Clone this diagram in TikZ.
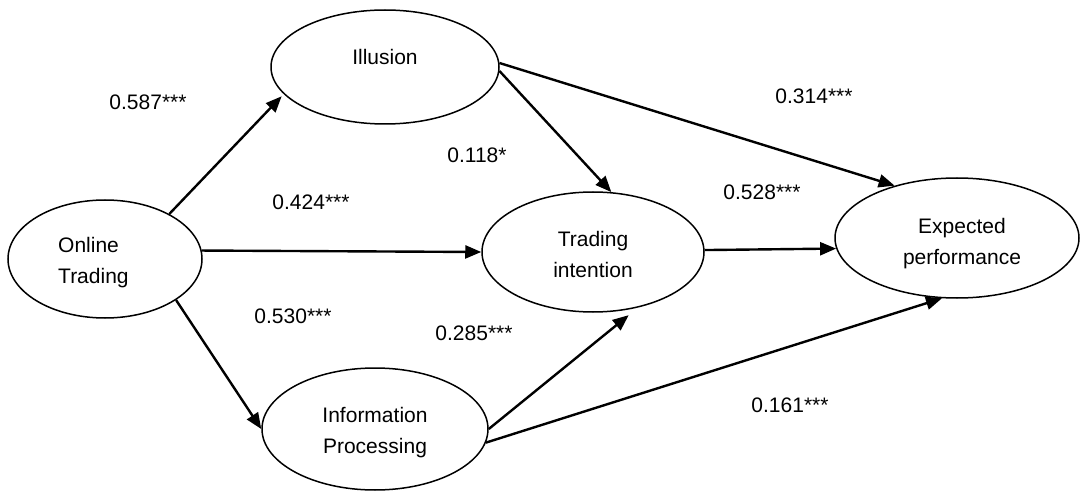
\documentclass[tikz,border=0pt]{standalone}
\usepackage{fontspec}
\setmainfont{Liberation Sans}
\usetikzlibrary{shapes.geometric,arrows.meta}
\tikzset{
  construct/.style={ellipse, draw, line width=1.5pt, inner sep=0pt},
  lbl/.style={inner sep=0pt, font=\fontsize{21}{31}\selectfont},
  path/.style={line width=2.4pt, -{Triangle[length=16pt,width=13pt]}}
}
\begin{document}
\begin{tikzpicture}[x=1pt,y=-1pt]
\useasboundingbox (0,0) rectangle (1080,492);
% ellipses
\node[construct, minimum width=194pt, minimum height=118pt] (onl) at (105,259) {};
\node[construct, minimum width=228pt, minimum height=114pt] (ill) at (385,67) {};
\node[construct, minimum width=222pt, minimum height=120pt] (tint) at (593,252) {};
\node[construct, minimum width=226pt, minimum height=122pt] (info) at (375,429) {};
\node[construct, minimum width=244pt, minimum height=120pt] (exp) at (957,238) {};
% ellipse texts
\node[lbl, anchor=west, align=left] (onl-t) at (58,263) {Online\\Trading};
\node[lbl] (ill-t) at (385,57) {Illusion};
\node[lbl, align=center] (tint-t) at (593,254) {Trading\\intention};
\node[lbl, align=center] (info-t) at (375,433) {Information\\Processing};
\node[lbl, align=center] (exp-t) at (962,244) {Expected\\performance};
% paths
\draw[path, shorten >=3pt] (onl.35) -- (ill.195);
\draw[path] (onl.5) -- (tint.west);
\draw[path] (onl.330) -- (info.west);
\draw[path] (ill.358) -- (tint.73);
\draw[path] (ill.2) -- (exp.140);
\draw[path] (tint.1) -- (exp.185);
\draw[path, shorten >=12pt] (info.east) -- (tint.309);
\draw[path] (info.353) -- (exp.256);
% coefficients
\node[lbl] (c1) at (148,102) {0.587***};
\node[lbl] (c2) at (814,96) {0.314***};
\node[lbl] (c3) at (477,155) {0.118*};
\node[lbl] (c4) at (311,202) {0.424***};
\node[lbl] (c5) at (762,192) {0.528***};
\node[lbl] (c6) at (293,316) {0.530***};
\node[lbl] (c7) at (474,333) {0.285***};
\node[lbl] (c8) at (790,405) {0.161***};
\end{tikzpicture}
\end{document}
